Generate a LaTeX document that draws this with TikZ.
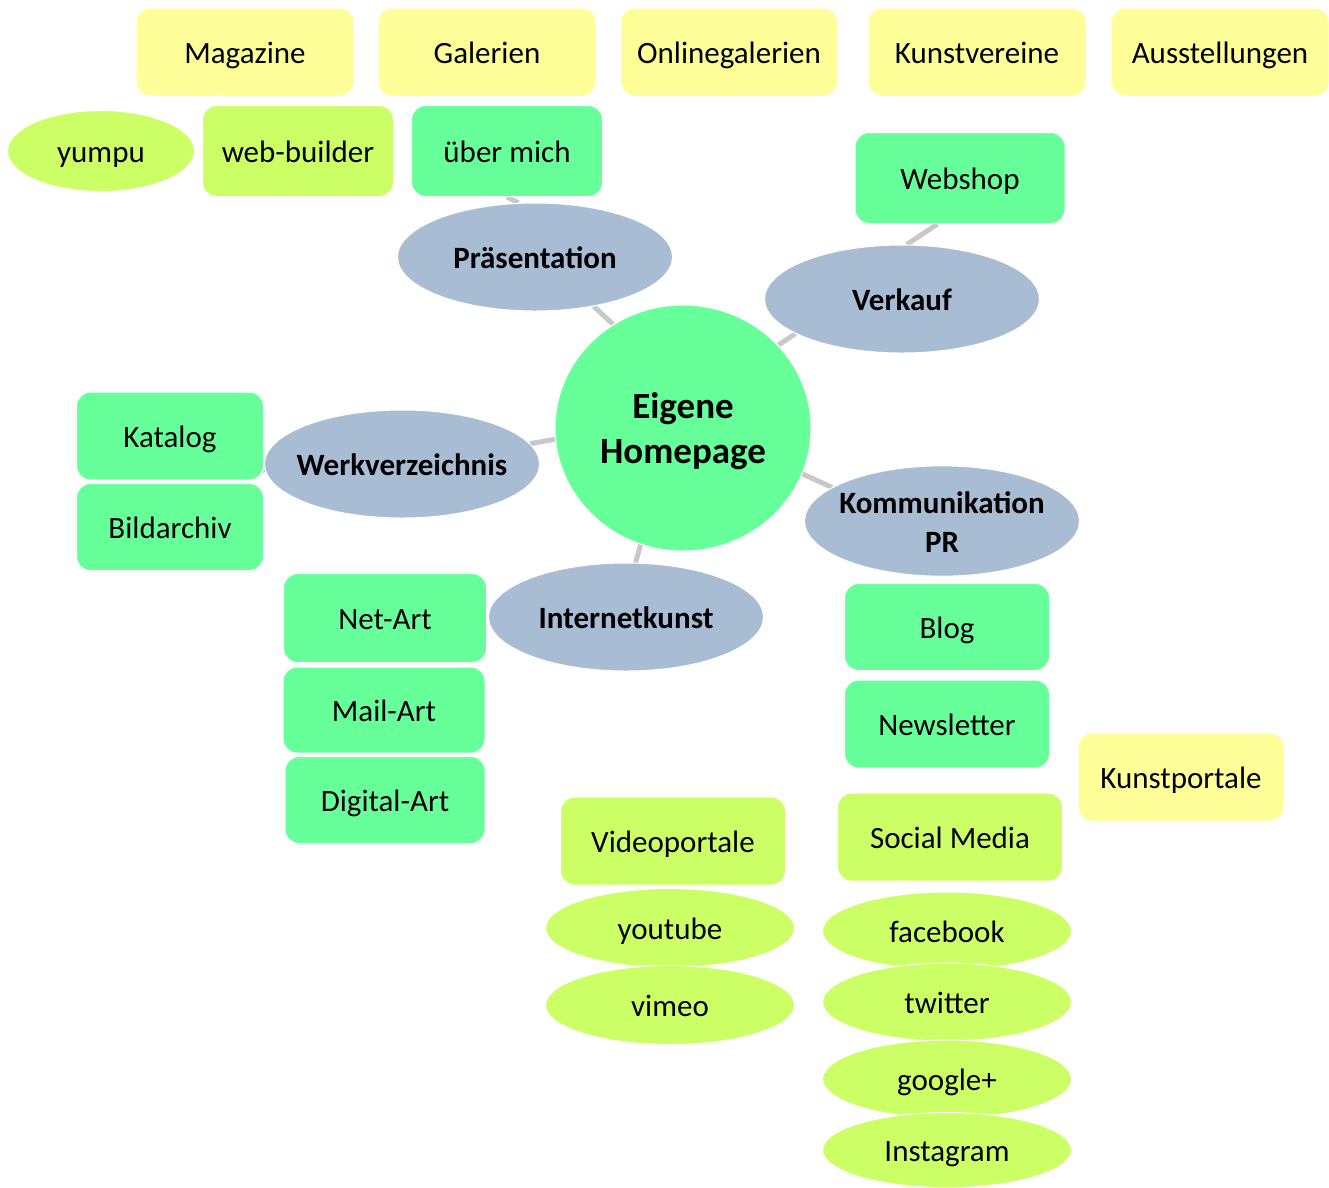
\documentclass[tikz,border=0pt]{standalone}
\usepackage{fontspec}
\setmainfont{Carlito}
\usetikzlibrary{shapes.geometric,backgrounds}
\definecolor{cgreen}{HTML}{66FF99}
\definecolor{clime}{HTML}{CCFF66}
\definecolor{cyellow}{HTML}{FFFF99}
\definecolor{cblue}{HTML}{A8BDD4}
\definecolor{cline}{HTML}{C8C8C8}
\begin{document}
\begin{tikzpicture}[x=1pt,y=-1pt,
 every node/.style={font=\fontsize{31}{37}\selectfont, inner sep=0pt, text=black, draw=white, line width=1pt,
   text height=28pt, text depth=6pt,
   execute at begin node={\hbox to 0pt\bgroup\hss}, execute at end node={\hss\egroup}},
 rbox/.style={rectangle, rounded corners=14pt},
 gbox/.style={rbox, fill=cgreen},
 lbox/.style={rbox, fill=clime},
 ybox/.style={rbox, fill=cyellow},
 catell/.style={ellipse, fill=cblue, font=\fontsize{31}{39}\selectfont\bfseries, minimum width=275pt, minimum height=108pt},
 lell/.style={ellipse, fill=clime, minimum width=249pt, minimum height=79pt},
 conn/.style={draw=cline, line width=5pt},
 sz/.style 2 args={minimum width=#1pt, minimum height=#2pt}]
\useasboundingbox (0,0) rectangle (1329,1187);

% top row (yellow)
\node[ybox, sz={218}{88}] (mag) at (245,52) {Magazine};
\node[ybox, sz={218}{88}] (gal) at (487,52) {Galerien};
\node[ybox, sz={217}{88}] (onl) at (729,52) {Onlinegalerien};
\node[ybox, sz={218}{88}] (kv) at (977,52) {Kunstvereine};
\node[ybox, sz={218}{88}] (aus) at (1220,52) {Ausstellungen};
\node[ybox, sz={206}{88}] (kp) at (1181,777) {Kunstportale};

% second row
\node[lell, minimum width=187pt, minimum height=81pt] (yumpu) at (101,151) {yumpu};
\node[lbox, sz={191}{91}] (wb) at (298,151) {web-builder};
\node[gbox, sz={191}{91}] (ueber) at (507,151) {über mich};
\node[gbox, sz={210}{91}] (web) at (960,178) {Webshop};

% center
\node[ellipse, fill=cgreen, minimum width=256pt, minimum height=246pt, font=\fontsize{37}{45}\selectfont\bfseries,
  text height=80pt, text depth=10pt] (c) at (683,428) {\begin{tabular}[b]{@{}c@{}}Eigene\\Homepage\end{tabular}};

% categories
\node[catell] (pres) at (535,257) {Präsentation};
\node[catell] (verk) at (902,299) {Verkauf};
\node[catell] (werk) at (402,464) {Werkverzeichnis};
\node[catell, text height=70pt, text depth=8pt] (komm) at (942,521) {\begin{tabular}[b]{@{}c@{}}Kommunikation\\PR\end{tabular}};
\node[catell] (inet) at (626,617) {Internetkunst};

% children
\node[gbox, sz={187}{88}] (kat) at (170,436) {Katalog};
\node[gbox, sz={187}{87}] (bild) at (170,527) {Bildarchiv};
\node[gbox, sz={203}{89}] (net) at (385,618) {Net-Art};
\node[gbox, sz={202}{86}] (mail) at (384,710) {Mail-Art};
\node[gbox, sz={200}{87}] (dig) at (385,800) {Digital-Art};
\node[gbox, sz={205}{87}] (blog) at (947,627) {Blog};
\node[gbox, sz={205}{88}] (news) at (947,724) {Newsletter};
\node[lbox, sz={225}{88}] (video) at (673,841) {Videoportale};
\node[lbox, sz={225}{88}] (social) at (950,837) {Social Media};
\node[lell] (yt) at (670,928) {youtube};
\node[lell] (vim) at (670,1005) {vimeo};
\node[lell, minimum height=78pt] (fb) at (947,931) {facebook};
\node[lell, minimum height=78pt] (tw) at (947,1002) {twitter};
\node[lell, minimum height=78pt] (gp) at (947,1079) {google+};
\node[lell, minimum height=75pt] (ig) at (947,1150) {Instagram};

\begin{scope}[on background layer]
\fill[white] (0,0) rectangle (1329,1187);
\draw[conn] (c.124) -- (pres.320);
\draw[conn] (c.41) -- (verk.198);
\draw[conn] (c.185) -- (werk.9);
\draw[conn] (c.339) -- (komm.163);
\draw[conn] (c.250) -- (inet.80);
\draw[conn] (ueber.south) -- (pres.107);
\draw[conn] (verk.85) -- (web.244);
\draw[conn] (werk.183) -- (kat.-20);
\end{scope}
\end{tikzpicture}
\end{document}
